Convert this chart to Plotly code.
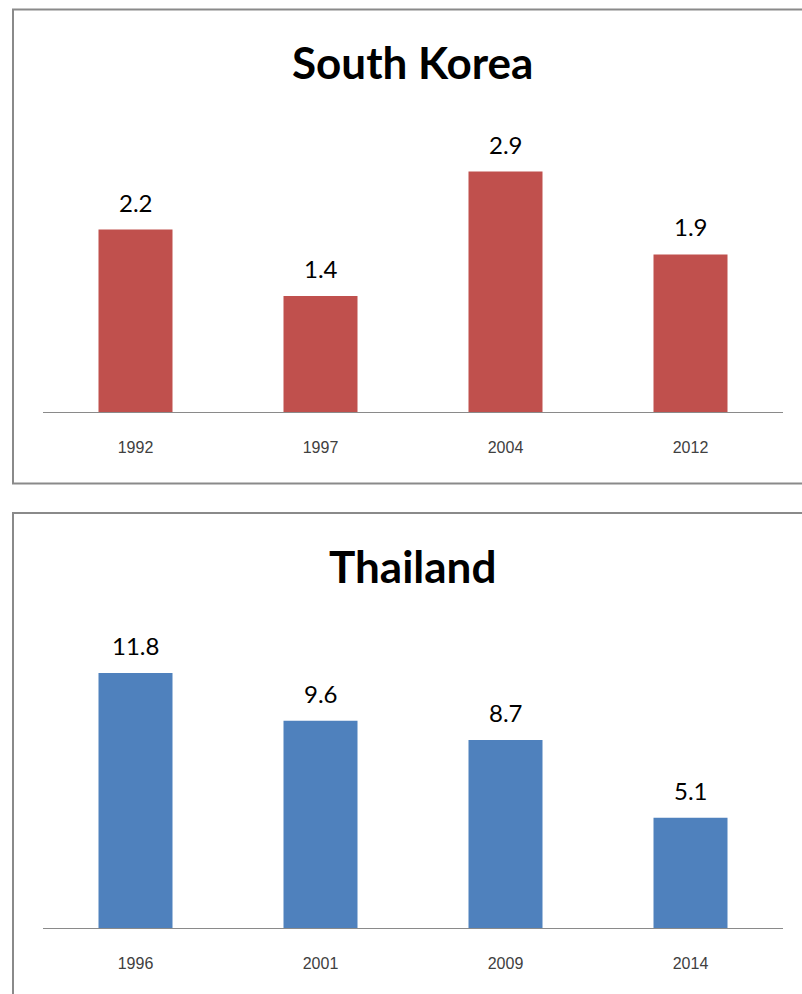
import plotly.graph_objects as go

W, H = 802, 994

# Data
kr_years = ["1992", "1997", "2004", "2012"]
kr_values = [2.2, 1.4, 2.9, 1.9]
th_years = ["1996", "2001", "2009", "2014"]
th_values = [11.8, 9.6, 8.7, 5.1]

kr_title = "South Korea"
th_title = "Thailand"
kr_color = "#C0504D"
th_color = "#4F81BD"


def px(x):
    return x / W


def py(y):
    return 1 - y / H


fig = go.Figure()

fig.add_trace(go.Bar(x=kr_years, y=kr_values, marker_color=kr_color,
                     marker_line_width=0, xaxis="x", yaxis="y", width=0.4,
                     showlegend=False, hoverinfo="skip"))
fig.add_trace(go.Bar(x=th_years, y=th_values, marker_color=th_color,
                     marker_line_width=0, xaxis="x2", yaxis="y2", width=0.4,
                     showlegend=False, hoverinfo="skip"))


def xaxis_cfg(cats, anchor):
    return dict(
        type="category", categoryorder="array", categoryarray=cats,
        range=[-0.5, len(cats) - 0.5], autorange=False, automargin=False,
        domain=[px(43), px(783)], anchor=anchor,
        showline=True, linecolor="#8a8a8a", linewidth=1.3,
        showgrid=False, zeroline=False,
        ticks="outside", ticklen=21, tickcolor="rgba(0,0,0,0)",
        tickfont=dict(family="Liberation Sans, Arial", size=16, color="#404040"),
        fixedrange=True,
    )


yaxis_common = dict(visible=False, showgrid=False, zeroline=False,
                    fixedrange=True, autorange=False, automargin=False)

top_axis_y = 412
top_plot_top = top_axis_y - 3.5 * 82.9
bot_axis_y = 928
bot_plot_top = bot_axis_y - 14 * 21.6

fig.update_layout(
    width=W, height=H,
    margin=dict(l=0, r=0, t=0, b=0, autoexpand=False),
    paper_bgcolor="white", plot_bgcolor="white",
    xaxis=xaxis_cfg(kr_years, "y"),
    yaxis=dict(domain=[py(top_axis_y), py(top_plot_top)], range=[0, 3.5], anchor="x", **yaxis_common),
    xaxis2=xaxis_cfg(th_years, "y2"),
    yaxis2=dict(domain=[py(bot_axis_y), py(bot_plot_top)], range=[0, 14], anchor="x2", **yaxis_common),
)

annotations = []
label_font = dict(family="Lato, Carlito, Calibri", size=24, color="#000000")
for i, v in enumerate(kr_values):
    annotations.append(dict(x=i, y=v, xref="x", yref="y", text=f"{v:.1f}",
                            showarrow=False, yanchor="bottom", yshift=11,
                            font=label_font))
for i, v in enumerate(th_values):
    annotations.append(dict(x=i, y=v, xref="x2", yref="y2", text=f"{v:.1f}",
                            showarrow=False, yanchor="bottom", yshift=11,
                            font=label_font))

title_font = dict(family="Lato, Carlito, Calibri", size=44, color="#000000")
annotations.append(dict(x=px(412), y=py(62), xref="paper", yref="paper",
                        text=f"<b>{kr_title}</b>", showarrow=False,
                        xanchor="center", yanchor="middle", font=title_font))
annotations.append(dict(x=px(412), y=py(566), xref="paper", yref="paper",
                        text=f"<b>{th_title}</b>", showarrow=False,
                        xanchor="center", yanchor="middle", font=title_font))
fig.update_layout(annotations=annotations)

border = dict(color="#8a8a8a", width=2)
fig.update_layout(shapes=[
    dict(type="rect", xref="paper", yref="paper",
         x0=px(13), x1=px(812), y0=py(483.5), y1=py(9.5), line=border),
    dict(type="rect", xref="paper", yref="paper",
         x0=px(13), x1=px(812), y0=py(1004), y1=py(513), line=border),
])

fig.write_html("out.html")
